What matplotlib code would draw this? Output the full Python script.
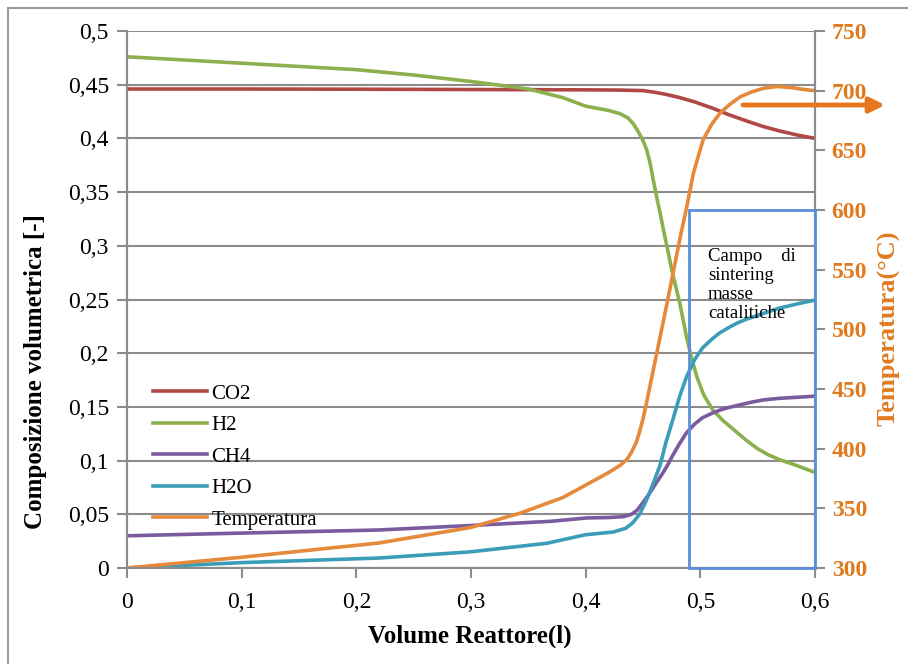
import matplotlib
matplotlib.use("Agg")
import matplotlib.pyplot as plt
from matplotlib.patches import Rectangle

plt.rcParams["font.family"] = ["Liberation Serif", "DejaVu Serif"]

# volume reattore (l) and compositions
co2_x = [0, 0.1, 0.2, 0.3, 0.4, 0.43, 0.45, 0.46, 0.47, 0.482, 0.495, 0.511, 0.525, 0.541, 0.555, 0.569, 0.585, 0.6]
co2_y = [0.446, 0.446, 0.4458, 0.4455, 0.4452, 0.445, 0.4445, 0.443, 0.441, 0.438, 0.434, 0.428, 0.422, 0.416, 0.411,
         0.407, 0.403, 0.400]

h2_x = [0, 0.05, 0.1, 0.15, 0.2, 0.25, 0.3, 0.35, 0.38, 0.40, 0.41, 0.42, 0.43, 0.437, 0.442, 0.446, 0.45, 0.453,
        0.456, 0.459, 0.462, 0.465, 0.468, 0.471, 0.475, 0.479, 0.482, 0.485, 0.488, 0.492, 0.497, 0.503, 0.511, 0.52,
        0.53, 0.54, 0.55, 0.56, 0.57, 0.58, 0.59, 0.6]
h2_y = [0.476, 0.473, 0.470, 0.467, 0.464, 0.459, 0.453, 0.446, 0.438, 0.430, 0.428, 0.426, 0.423, 0.419, 0.413, 0.406,
        0.398, 0.390, 0.378, 0.361, 0.345, 0.330, 0.314, 0.299, 0.278, 0.260, 0.247, 0.231, 0.215, 0.197, 0.178, 0.161,
        0.147, 0.137, 0.128, 0.119, 0.111, 0.105, 0.1005, 0.097, 0.093, 0.089]

ch4_x = [0, 0.1, 0.22, 0.308, 0.37, 0.401, 0.42, 0.433, 0.44, 0.445, 0.45, 0.456, 0.462, 0.467, 0.471, 0.476, 0.482,
         0.488, 0.495, 0.502, 0.51, 0.517, 0.525, 0.535, 0.545, 0.555, 0.569, 0.585, 0.6]
ch4_y = [0.030, 0.0325, 0.0354, 0.040, 0.0435, 0.0466, 0.047, 0.0478, 0.050, 0.054, 0.061, 0.070, 0.080, 0.088, 0.095,
         0.105, 0.116, 0.126, 0.134, 0.140, 0.144, 0.147, 0.1495, 0.152, 0.1545, 0.1565, 0.158, 0.159, 0.160]

h2o_x = [0, 0.1, 0.22, 0.299, 0.366, 0.4, 0.424, 0.435, 0.441, 0.447, 0.453, 0.459, 0.465, 0.47, 0.476, 0.482, 0.488,
         0.495, 0.502, 0.51, 0.517, 0.525, 0.532, 0.541, 0.555, 0.569, 0.585, 0.6]
h2o_y = [0.0, 0.005, 0.0093, 0.015, 0.023, 0.031, 0.0335, 0.037, 0.042, 0.050, 0.063, 0.079, 0.096, 0.117, 0.138,
         0.160, 0.178, 0.194, 0.205, 0.213, 0.219, 0.224, 0.228, 0.232, 0.237, 0.242, 0.246, 0.2495]

temp_x = [0, 0.1, 0.2, 0.22, 0.3, 0.343, 0.38, 0.401, 0.42, 0.43, 0.436, 0.44, 0.444, 0.447, 0.45, 0.453, 0.459, 0.465,
          0.471, 0.476, 0.482, 0.488, 0.494, 0.4985, 0.5025, 0.51, 0.517, 0.525, 0.535, 0.545, 0.555, 0.567, 0.58,
          0.59, 0.6]
temp_y = [300, 309, 319, 321, 334, 346, 359, 370, 380, 386, 391, 397, 405, 414, 425, 438, 466, 494, 522, 546, 575, 602,
          631, 646, 659, 672, 681, 688, 695, 699, 702, 703.5, 702.5, 701, 700]

# campo di sintering
box_x = [0.49, 0.6]
box_t = [300, 600]

C_CO2 = "#B04845"
C_H2 = "#8DB04E"
C_CH4 = "#7B5BA0"
C_H2O = "#3B9DB8"
C_T = "#E5893A"
C_TXT = "#E07A1F"
C_AX = "#8C8C8C"
C_BOX = "#5B8FD6"

fig = plt.figure(figsize=(9.08, 6.64), dpi=100)
fig.patches.append(Rectangle((8 / 908, -0.1), 1.2, (656 + 0.1 * 664) / 664, transform=fig.transFigure,
                             fill=False, edgecolor="#9A9A9A", lw=1.5))
ax = fig.add_axes([127 / 908, 1 - 568 / 664, 688 / 908, 537 / 664])
ax2 = ax.twinx()

ax.set_xlim(0, 0.6)
ax.set_ylim(0, 0.5)
ax2.set_ylim(300, 750)

ax.set_yticks([i * 0.05 for i in range(11)])
ax.set_yticklabels(["0", "0,05", "0,1", "0,15", "0,2", "0,25", "0,3", "0,35", "0,4", "0,45", "0,5"])
ax.set_xticks([0, 0.1, 0.2, 0.3, 0.4, 0.5, 0.6])
ax.set_xticklabels(["0", "0,1", "0,2", "0,3", "0,4", "0,5", "0,6"])
ax2.set_yticks(range(300, 751, 50))

ax.grid(axis="y", color=C_AX, lw=1.5)
ax.set_axisbelow(True)
for a in (ax, ax2):
    for s in a.spines.values():
        s.set_color(C_AX)
        s.set_linewidth(1.5)
    a.spines["top"].set_visible(False)
ax.tick_params(axis="both", color=C_AX, width=1.5, length=7, labelsize=17, pad=6)
ax.tick_params(axis="x", pad=10)
ax2.tick_params(axis="y", color=C_AX, width=1.5, length=7, labelsize=17, labelcolor=C_TXT, pad=5)
for lab in ax2.get_yticklabels():
    lab.set_fontweight("bold")

lw = 2.6
l1, = ax.plot(co2_x, co2_y, color=C_CO2, lw=lw, label="CO2")
l2, = ax.plot(h2_x, h2_y, color=C_H2, lw=lw, label="H2")
l3, = ax.plot(ch4_x, ch4_y, color=C_CH4, lw=lw, label="CH4")
l4, = ax.plot(h2o_x, h2o_y, color=C_H2O, lw=lw, label="H2O", zorder=3)
l5, = ax2.plot(temp_x, temp_y, color=C_T, lw=lw, label="Temperatura")

ax2.add_patch(Rectangle((box_x[0], box_t[0]), box_x[1] - box_x[0], box_t[1] - box_t[0],
                        fill=False, edgecolor=C_BOX, lw=2, clip_on=False, zorder=4))
ax2.text(0.5065, 568, "Campo    di\nsintering\nmasse\ncatalitiche", fontsize=13.5, va="top", ha="left",
         linespacing=1.15, zorder=5)

ax2.annotate("", xy=(885 / 908, 1 - 105 / 664), xycoords="figure fraction",
             xytext=(743 / 908, 1 - 105 / 664), textcoords="figure fraction",
             arrowprops=dict(arrowstyle="-|>,head_length=0.9,head_width=0.45", color="#E8761C", lw=3.5,
                             shrinkA=0, shrinkB=0))

ax.legend(handles=[l1, l2, l3, l4, l5], loc="upper left", bbox_to_anchor=(0.026, 0.358), frameon=False,
          fontsize=15, handlelength=2.6, handletextpad=0.2, labelspacing=0.57, borderaxespad=0)

fig.text(470 / 908, 1 - 636 / 664, "Volume Reattore(l)", fontsize=18, fontweight="bold", ha="center", va="center")
fig.text(36 / 908, 1 - 372 / 664, "Composizione volumetrica [-]", fontsize=18, fontweight="bold",
         rotation=90, ha="center", va="center")
fig.text(889 / 908, 1 - 328 / 664, "Temperatura(°C)", fontsize=19, fontweight="bold", color=C_TXT,
         rotation=90, ha="center", va="center")

fig.savefig("out.png", dpi=100)
